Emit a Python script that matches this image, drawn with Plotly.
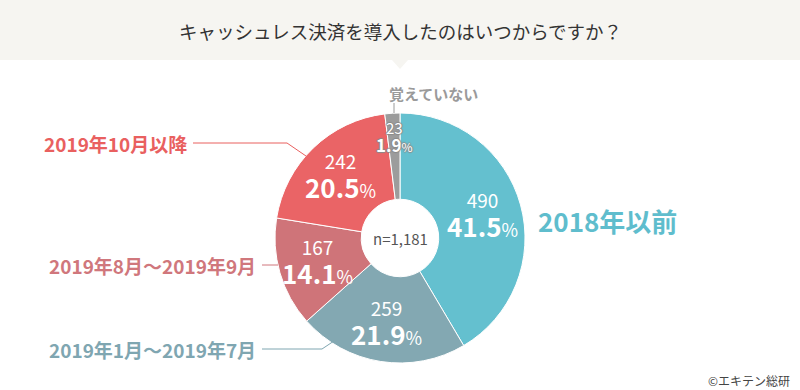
import math
import plotly.graph_objects as go

categories = ["2018年以前", "2019年1月〜2019年7月", "2019年8月〜2019年9月", "2019年10月以降", "覚えていない"]
counts = [490, 259, 167, 242, 23]
percents = [41.5, 21.9, 14.1, 20.5, 1.9]
slice_colors = ["#64c0cf", "#83a8b2", "#cf7479", "#ea6466", "#9c9c9c"]
label_colors = ["#5fbdcd", "#7fa6b1", "#d0777c", "#e9605f", "#9a9a9a"]
title_text = "キャッシュレス決済を導入したのはいつからですか？"
n_text = "n=1,181"
credit = "©エキテン総研"

W, H = 800, 390
CX, CY, R = 400, 238, 125
FONT = "Noto Sans CJK JP"


def px(x, y):
    return x / W, 1 - y / H


fig = go.Figure()
fig.add_trace(go.Pie(
    labels=categories, values=counts, sort=False, direction="clockwise", rotation=0,
    hole=0.31, textinfo="none", hoverinfo="label+value+percent",
    marker=dict(colors=slice_colors, line=dict(color="white", width=1)),
    domain=dict(x=[(CX - R) / W, (CX + R) / W], y=[1 - (CY + R) / H, 1 - (CY - R) / H]),
    showlegend=False,
))

annotations = []
shapes = []


def ann(text, x, y, size, color, xanchor="center", shadow=None):
    fx, fy = px(x, y)
    font = dict(family=FONT, size=size, color=color)
    if shadow:
        font["shadow"] = shadow
    annotations.append(dict(text=text, x=fx, y=fy, xref="paper", yref="paper",
                            xanchor=xanchor, yanchor="middle", showarrow=False, font=font))


# banner
shapes.append(dict(type="rect", xref="paper", yref="paper", x0=0, x1=1, y0=px(0, 60)[1], y1=1,
                   fillcolor="#f6f5f1", line=dict(width=0), layer="below"))
p1, p2, p3 = px(392, 60), px(408, 60), px(400, 69)
shapes.append(dict(type="path", xref="paper", yref="paper",
                   path=f"M {p1[0]},{p1[1]} L {p2[0]},{p2[1]} L {p3[0]},{p3[1]} Z",
                   fillcolor="#f6f5f1", line=dict(width=0)))
ann(title_text, 400, 31, 18.5, "#333333")

# in-slice labels, positioned from the data angles
total = sum(counts)
cum = 0
for i, (c, p) in enumerate(zip(counts, percents)):
    mid = (cum + c / 2) / total * 2 * math.pi
    cum += c
    small = c / total < 0.05
    r = 100 if small else 86
    lx = CX + r * math.sin(mid)
    ly = CY - r * math.cos(mid)
    if small:
        shadow = "1px 0 1px #8a8a8a, -1px 0 1px #8a8a8a, 0 1px 1px #8a8a8a, 0 -1px 1px #8a8a8a"
        txt = (f"<span style='font-size:15px'>{c}</span><br>"
               f"<span style='font-size:17px'><b>{p}</b></span><span style='font-size:12px'>%</span>")
        ann(txt, lx + 1, ly - 1, 14, "white", shadow=shadow)
    else:
        txt = (f"<span style='font-size:19px'>{c}</span><br>"
               f"<span style='font-size:26px'><b>{p}</b></span><span style='font-size:18px'>%</span>")
        ann(txt, lx, ly, 22.5, "white")

# center n
ann(n_text, CX, CY, 15, "#555555")


def line(points, color):
    pts = [px(*q) for q in points]
    path = "M " + " L ".join(f"{a},{b}" for a, b in pts)
    shapes.append(dict(type="path", xref="paper", yref="paper", path=path,
                       line=dict(color=color, width=1)))


ann(f"<b>{categories[0]}</b>", 536, 220, 26, label_colors[0], xanchor="left")

ann(f"<b>{categories[1]}</b>", 258, 349, 19, label_colors[1], xanchor="right")
line([(262, 349), (322, 349), (334, 341)], label_colors[1])

ann(f"<b>{categories[2]}</b>", 258, 265, 19, label_colors[2], xanchor="right")
line([(262, 265), (278, 265)], label_colors[2])

ann(f"<b>{categories[3]}</b>", 189, 143, 19, label_colors[3], xanchor="right")
line([(193, 143), (287, 143), (306, 156)], label_colors[3])

ann(f"<b>{categories[4]}</b>", 433, 93, 15, label_colors[4])
line([(394, 103), (394, 113)], label_colors[4])

ann(credit, 792, 380, 12, "#444444", xanchor="right")

fig.update_layout(
    width=W, height=H, margin=dict(l=0, r=0, t=0, b=0),
    paper_bgcolor="white", plot_bgcolor="white",
    annotations=annotations, shapes=shapes,
)
fig.write_html("out.html", config={"displayModeBar": False},
               post_script="document.body.style.margin='0px';document.body.style.overflow='hidden';")
